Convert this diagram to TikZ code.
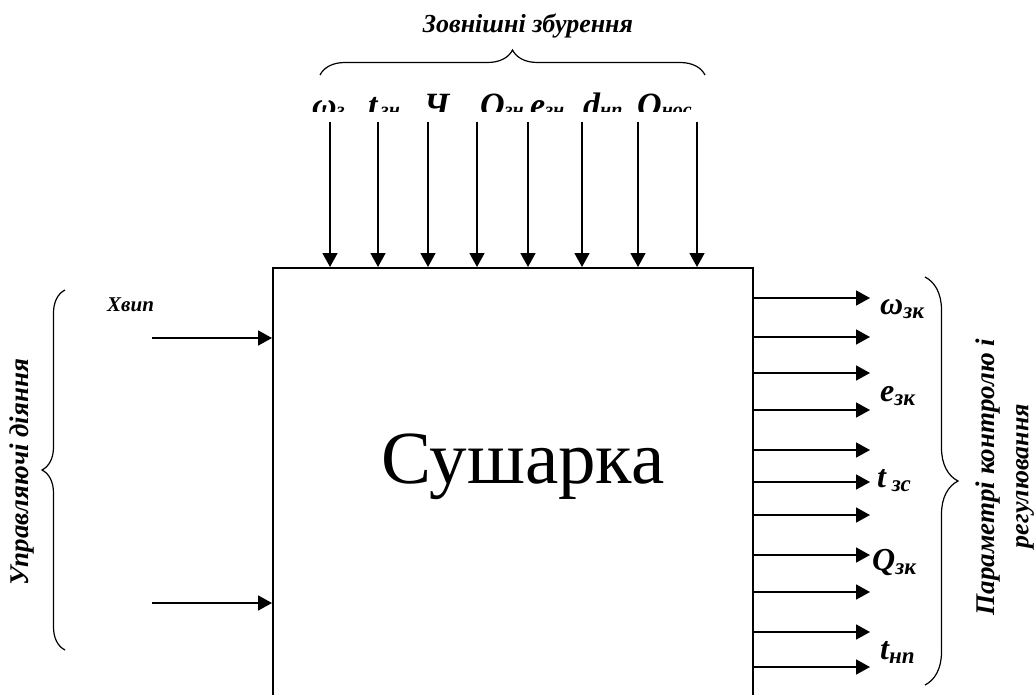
\documentclass[tikz,border=0pt]{standalone}
\usepackage{fontspec}
\setmainfont{Liberation Serif}
\usetikzlibrary{arrows.meta,decorations.pathreplacing}
\newcommand\bilbl[2]{\fontsize{32}{32}\selectfont\bfseries\itshape #1\raisebox{-4pt}{\fontsize{23}{23}\selectfont #2}}
\newcommand\toplbl[2]{\fontsize{34}{34}\selectfont\bfseries\itshape #1{\fontsize{20}{20}\selectfont #2}}
\begin{document}
\begin{tikzpicture}[x=1pt,y=1pt,
  arr/.style={line width=1.7pt,-{Triangle[length=14pt,width=15pt]}},
  boxst/.style={draw,line width=1.7pt,minimum width=480pt,minimum height=500pt,anchor=north west,inner sep=0pt},
  bracest/.style={line width=1.2pt,decorate},
  lblst/.style={anchor=base west,inner sep=0pt},
  titlest/.style={font=\fontsize{26}{26}\selectfont\bfseries\itshape,inner sep=0pt}]
\useasboundingbox (0,0) rectangle (1035,-695);
\clip (0,0) rectangle (1035,-695);
% main box
\node[boxst] (box) at (272,-267) {};
\node[anchor=base,inner sep=0pt,font=\fontsize{75}{75}\selectfont] (dryer) at (523,-483) {Сушарка};
% top arrows
\foreach \i/\x in {1/330,2/378,3/428,4/477,5/528,6/582,7/638,8/697}{
  \coordinate (t\i) at (\x,-122);
  \draw[arr] (t\i) -- (t\i |- box.north);
}
% top labels (clipped)
\begin{scope}
\clip (0,0) rectangle (1035,-112);
\node[lblst] (la1) at (312,-117) {\toplbl{ω}{з}};
\node[lblst] (la2) at (368,-117) {\toplbl{t}{\,зн}};
\node[lblst] (la3) at (424,-117) {\toplbl{Ч}{}};
\node[lblst] (la4) at (480,-117) {\toplbl{Q}{зн}};
\node[lblst] (la5) at (530,-117) {\toplbl{e}{зн}};
\node[lblst] (la6) at (583,-117) {\toplbl{d}{нп}};
\node[lblst] (la7) at (637,-117) {\toplbl{Q}{нос}};
\end{scope}
% top brace and title
\draw[bracest,decoration={brace,amplitude=25pt}] (320,-75) -- (705,-75);
\node[titlest,anchor=base] (title) at (528,-33) {Зовнішні збурення};
% left arrows
\coordinate (l1) at (152,-338);
\coordinate (l2) at (152,-603);
\draw[arr] (l1) -- (l1 -| box.west);
\draw[arr] (l2) -- (l2 -| box.west);
\node[anchor=base west,inner sep=0pt,font=\fontsize{21}{21}\selectfont\bfseries\itshape] (xvyp) at (107,-311) {Xвип};
\draw[bracest,decoration={brace,amplitude=23pt}] (65,-650) -- (65,-290);
\node[titlest,rotate=90,font=\fontsize{27}{27}\selectfont\bfseries\itshape] (ctrl) at (22,-472) {Управляючі діяння};
% right arrows
\foreach \i/\y in {1/298,2/337,3/373,4/410,5/450,6/482,7/515,8/555,9/592,10/632,11/667}{
  \coordinate (r\i) at (870,-\y);
  \draw[arr] (r\i -| box.east) -- (r\i);
}
\node[lblst] (o1) at (880,-314) {\bilbl{ω}{зк}};
\node[lblst] (o2) at (880,-401) {\bilbl{e}{зк}};
\node[lblst] (o3) at (877,-487) {\bilbl{t}{ зс}};
\node[lblst] (o4) at (872,-570) {\bilbl{Q}{зк}};
\node[lblst] (o5) at (880,-659) {\bilbl{t}{нп}};
\draw[bracest,decoration={brace,amplitude=33pt}] (925,-277) -- (925,-685);
\node[titlest,rotate=90,font=\fontsize{27}{27}\selectfont\bfseries\itshape] (par1) at (988,-477) {Параметрі контролю і};
\node[titlest,rotate=90] (par2) at (1025,-476) {регулювання};
\end{tikzpicture}
\end{document}
